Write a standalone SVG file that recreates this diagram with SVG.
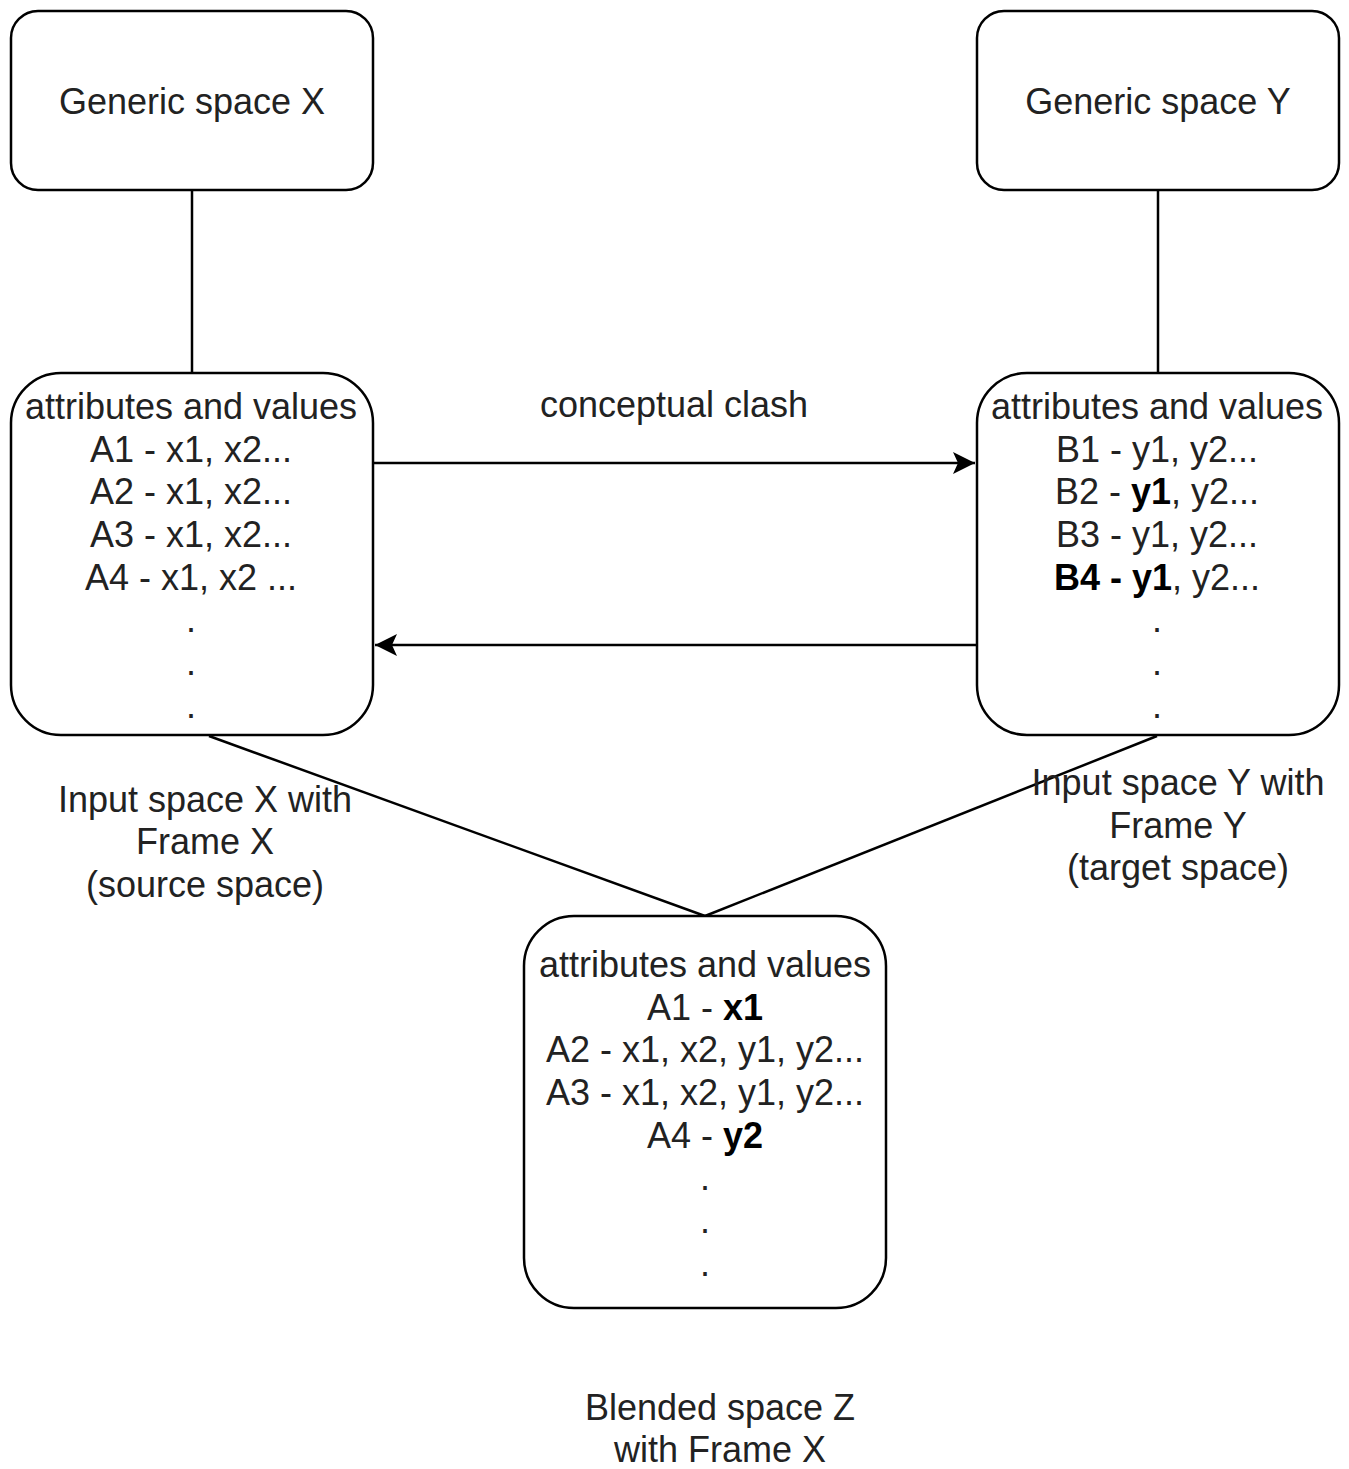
<svg xmlns="http://www.w3.org/2000/svg" width="1349" height="1469" viewBox="0 0 1349 1469">
<style>
.box{fill:#ffffff;stroke:#000000;stroke-width:2.5}
.ln{fill:none;stroke:#000000;stroke-width:2.5}
text{font-family:"Liberation Sans",Arial,sans-serif;font-size:36px;fill:#222222;text-anchor:middle}
.b{font-weight:bold;fill:#000000}
</style>
<defs>
<marker id="arr" markerUnits="userSpaceOnUse" markerWidth="24" markerHeight="24" viewBox="0 0 24 24" refX="22" refY="12" orient="auto">
<path d="M0,1 L22,12 L0,23 L5,12 Z" fill="#000000"/>
</marker>
</defs>
<rect width="1349" height="1469" fill="#ffffff"/>
<g id="connectors">
<line class="ln" x1="192" y1="190" x2="192" y2="373"/>
<line class="ln" x1="1158" y1="190" x2="1158" y2="373"/>
<line class="ln" x1="373" y1="463" x2="975" y2="463" marker-end="url(#arr)"/>
<line class="ln" x1="977" y1="645" x2="375" y2="645" marker-end="url(#arr)"/>
<line class="ln" x1="209" y1="736" x2="705" y2="916"/>
<line class="ln" x1="1157" y1="736" x2="705" y2="916"/>
</g>
<g id="genericX">
<rect class="box" x="11" y="11" width="362" height="179" rx="27" ry="27"/>
<text x="192" y="114">Generic space X</text>
</g>
<g id="genericY">
<rect class="box" x="977" y="11" width="362" height="179" rx="27" ry="27"/>
<text x="1158" y="114">Generic space Y</text>
</g>
<g id="inputX">
<rect class="box" x="11" y="373" width="362" height="362" rx="50" ry="50"/>
<text x="191" y="419">attributes and values</text>
<text x="191" y="461.7">A1 - x1, x2...</text>
<text x="191" y="504.3">A2 - x1, x2...</text>
<text x="191" y="547">A3 - x1, x2...</text>
<text x="191" y="589.7">A4 - x1, x2 ...</text>
<text x="191" y="632.3">.</text>
<text x="191" y="675">.</text>
<text x="191" y="717.7">.</text>
</g>
<g id="inputY">
<rect class="box" x="977" y="373" width="362" height="362" rx="50" ry="50"/>
<text x="1157" y="419">attributes and values</text>
<text x="1157" y="461.7">B1 - y1, y2...</text>
<text x="1157" y="504.3">B2 - <tspan class="b">y1</tspan>, y2...</text>
<text x="1157" y="547">B3 - y1, y2...</text>
<text x="1157" y="589.7"><tspan class="b">B4 - y1</tspan>, y2...</text>
<text x="1157" y="632.3">.</text>
<text x="1157" y="675">.</text>
<text x="1157" y="717.7">.</text>
</g>
<g id="blended">
<rect class="box" x="524" y="916" width="362" height="392" rx="50" ry="50"/>
<text x="705" y="977">attributes and values</text>
<text x="705" y="1019.7">A1 - <tspan class="b">x1</tspan></text>
<text x="705" y="1062.3">A2 - x1, x2, y1, y2...</text>
<text x="705" y="1105">A3 - x1, x2, y1, y2...</text>
<text x="705" y="1147.7">A4 - <tspan class="b">y2</tspan></text>
<text x="705" y="1190.3">.</text>
<text x="705" y="1233">.</text>
<text x="705" y="1275.7">.</text>
</g>
<g id="label-clash">
<text x="674" y="416.5">conceptual clash</text>
</g>
<g id="label-inputX">
<text x="205" y="811.5">Input space X with</text>
<text x="205" y="854">Frame X</text>
<text x="205" y="896.5">(source space)</text>
</g>
<g id="label-inputY">
<text x="1178" y="795">Input space Y with</text>
<text x="1178" y="837.5">Frame Y</text>
<text x="1178" y="880">(target space)</text>
</g>
<g id="label-blended">
<text x="720" y="1420">Blended space Z</text>
<text x="720" y="1462">with Frame X</text>
</g>
</svg>
